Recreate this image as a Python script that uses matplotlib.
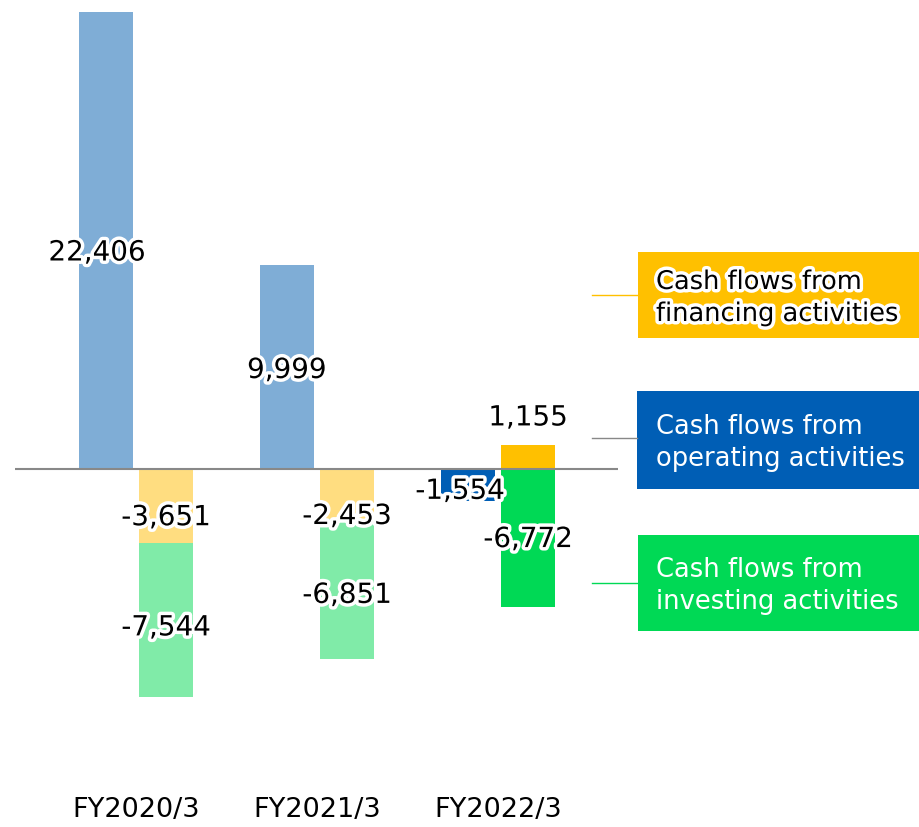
import numpy as np
import matplotlib
matplotlib.use("Agg")
import matplotlib.pyplot as plt
import matplotlib.patheffects as pe
from matplotlib.patches import Rectangle

# ---------------------------------------------------------------------------
years     = ["FY2020/3", "FY2021/3", "FY2022/3"]
operating = [22406, 9999, -1554]
financing = [-3651, -2453, 1155]
investing = [-7544, -6851, -6772]

# pale colours for past years, full colours for the latest one
C_OPER = ["#7fadd6", "#7fadd6", "#005eb5"]
C_FIN  = ["#ffdd80", "#ffdd80", "#ffc000"]
C_INV  = ["#80eba8", "#80eba8", "#00d955"]

legend_labels = ["Cash flows from\nfinancing activities",
                 "Cash flows from\noperating activities",
                 "Cash flows from\ninvesting activities"]

# ---------------------------------------------------------------------------
W, H = 919, 827
PX_PER_UNIT = 457 / 22406
Y0_PX = 469
GROUP_PX = 181
X0_PX = 136
PX = 1 / PX_PER_UNIT  # data units per pixel

fig = plt.figure(figsize=(W / 100, H / 100), dpi=100)
ax = fig.add_axes([0, 0, 1, 1])
ax.set_xlim(-X0_PX / GROUP_PX, (W - X0_PX) / GROUP_PX)
ax.set_ylim(-(H - Y0_PX) / PX_PER_UNIT, Y0_PX / PX_PER_UNIT)
ax.axis("off")

x = np.arange(len(years))
off = 30 / GROUP_PX
bw = 54 / GROUP_PX

halo = [pe.withStroke(linewidth=5, foreground="white")]
FS = 20

ax.bar(x - off, operating, bw, color=C_OPER, zorder=2)
ax.bar(x + off, financing, bw, color=C_FIN, zorder=2)
inv_bottom = [f if f < 0 else 0 for f in financing]
ax.bar(x + off, investing, bw, bottom=inv_bottom, color=C_INV, zorder=2)

ax.hlines(0, 15 / GROUP_PX - X0_PX / GROUP_PX, (618 - X0_PX) / GROUP_PX,
          color="#888888", lw=1.5, zorder=3)

def fmt(v):
    return f"{v:,}"

# label nudges in pixels (dx right, dy down)
oper_nudge = [(-9, 12), (0, 3), (-8, 6)]
fin_nudge  = [(0, 11), (0, 22), (0, 2)]
inv_nudge  = [(0, 7), (0, 6), (0, 1)]

def label(xc, yc, v, nudge):
    dx, dy = nudge
    ax.text(xc + dx / GROUP_PX, yc - dy * PX, fmt(v), ha="center",
            va="center", fontsize=FS, zorder=5, path_effects=halo)

for i in range(len(years)):
    label(x[i] - off, operating[i] / 2, operating[i], oper_nudge[i])
    f = financing[i]
    fy = f / 2 if f < 0 else f + 30 * PX
    label(x[i] + off, fy, f, fin_nudge[i])
    label(x[i] + off, inv_bottom[i] + investing[i] / 2, investing[i], inv_nudge[i])

# category labels
for i, yr in enumerate(years):
    ax.text(x[i], -(810 - Y0_PX) * PX, yr, ha="center", va="center",
            fontsize=19.5)

# legend boxes on the right (figure pixel coordinates)
boxes = [
    (638, 252, 338, C_FIN[2], "black", 295, C_FIN[2]),
    (637, 391, 489, C_OPER[2], "white", 438, "#888888"),
    (638, 535, 631, C_INV[2], "white", 583, C_INV[2]),
]
for (bx, top, bot, fc, tc, ly, lc), lab in zip(boxes, legend_labels):
    fig.patches.append(Rectangle((bx / W, 1 - bot / H), (W - bx) / W,
                                 (bot - top) / H, transform=fig.transFigure,
                                 facecolor=fc, edgecolor="none"))
    fig.lines.append(plt.Line2D([592 / W, bx / W], [1 - ly / H, 1 - ly / H],
                                transform=fig.transFigure, color=lc, lw=1))
    kw = dict(path_effects=halo) if tc == "black" else {}
    fig.text(656 / W, 1 - ((top + bot) / 2 + 3) / H, lab, ha="left",
             va="center", color=tc, fontsize=18.5, linespacing=1.3, **kw)

fig.savefig("out.png", dpi=100)
